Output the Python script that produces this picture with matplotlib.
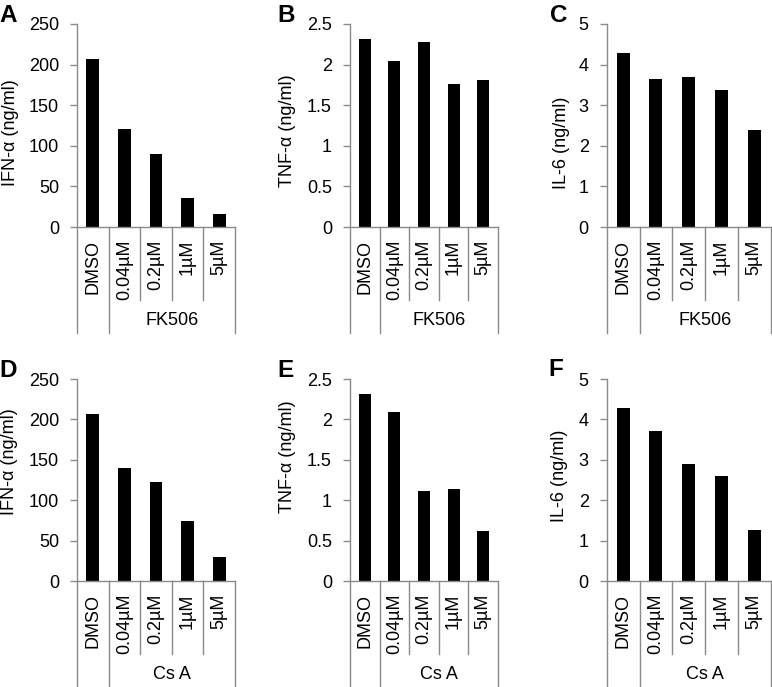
import numpy as np
import matplotlib
matplotlib.use('Agg')
import matplotlib.pyplot as plt
from matplotlib.ticker import FuncFormatter

plt.rcParams['font.family'] = ['Liberation Sans', 'DejaVu Sans']

# categories
doses = ['DMSO', '0.04µM', '0.2µM', '1µM', '5µM']
drugs = ['FK506', 'Cs A']
panel_letters = ['A', 'B', 'C', 'D', 'E', 'F']
ylabels = ['IFN-α (ng/ml)', 'TNF-α (ng/ml)', 'IL-6 (ng/ml)']
ymax = [250, 2.5, 5]
ystep = [50, 0.5, 1]

# values
ifn_fk506 = [207, 121, 90, 36, 16]
tnf_fk506 = [2.31, 2.05, 2.28, 1.76, 1.81]
il6_fk506 = [4.28, 3.65, 3.70, 3.38, 2.39]
ifn_csa = [207, 140, 123, 74, 30]
tnf_csa = [2.32, 2.09, 1.12, 1.14, 0.62]
il6_csa = [4.28, 3.72, 2.90, 2.59, 1.26]

data = [[ifn_fk506, tnf_fk506, il6_fk506],
        [ifn_csa, tnf_csa, il6_csa]]

W, H = 772, 687
fig = plt.figure(figsize=(W / 100, H / 100), dpi=100)

# plot area positions in pixels
col_left = [77, 350, 606.7]
col_right = [235, 498, 770.7]
row_top = [24, 379]
row_bot = [227, 581]
ylab_pos = [[(11, 133), (288, 131), (562, 143)],
            [(10, 462), (288, 457), (560, 476)]]
letter_pos = [[(-1, 22.5), (277, 22.5), (550, 22.5)],
              [(-1, 377), (277, 377), (548, 376.5)]]

gray = '#8a8a8a'
fs = 13

for r in range(2):
    for c in range(3):
        left = col_left[c] / W
        width = (col_right[c] - col_left[c]) / W
        bottom = 1 - row_bot[r] / H
        height = (row_bot[r] - row_top[r]) / H
        ax = fig.add_axes([left, bottom, width, height])
        x = np.arange(len(doses))
        ax.bar(x, data[r][c], width=0.4, color='black')
        ax.set_xlim(-0.5, len(doses) - 0.5)
        ax.set_ylim(0, ymax[c])
        ax.set_yticks(np.arange(0, ymax[c] + ystep[c] / 2, ystep[c]))
        ax.yaxis.set_major_formatter(FuncFormatter(lambda v, p: '%g' % v))
        ax.set_xticks([])
        for s in ['top', 'right']:
            ax.spines[s].set_visible(False)
        for s in ['left', 'bottom']:
            ax.spines[s].set_color(gray)
            ax.spines[s].set_linewidth(1)
        ax.tick_params(axis='y', direction='out', length=5, width=1,
                       color=gray, labelsize=fs, pad=8)

        # category separators below the axis
        tr = ax.get_xaxis_transform()
        for xs in [-0.5, 0.5, 4.5]:
            ax.plot([xs, xs], [0, -0.52], color=gray, lw=1,
                    transform=tr, clip_on=False)
        for xs in [1.5, 2.5, 3.5]:
            ax.plot([xs, xs], [0, -0.36], color=gray, lw=1,
                    transform=tr, clip_on=False)
        for i, d in enumerate(doses):
            ax.text(i, -0.062, d, rotation=90, ha='center', va='top',
                    fontsize=fs, transform=tr)
        ax.text(2.5, -0.462, drugs[r], ha='center', va='center',
                fontsize=fs, transform=tr)

        lx, ly = ylab_pos[r][c]
        fig.text(lx / W, 1 - ly / H, ylabels[c], rotation=90,
                 ha='center', va='center', fontsize=fs)
        px, py = letter_pos[r][c]
        fig.text(px / W, 1 - py / H, panel_letters[r * 3 + c],
                 ha='left', va='baseline', fontsize=17.5, fontweight='bold')

fig.savefig('out.png', dpi=100)
